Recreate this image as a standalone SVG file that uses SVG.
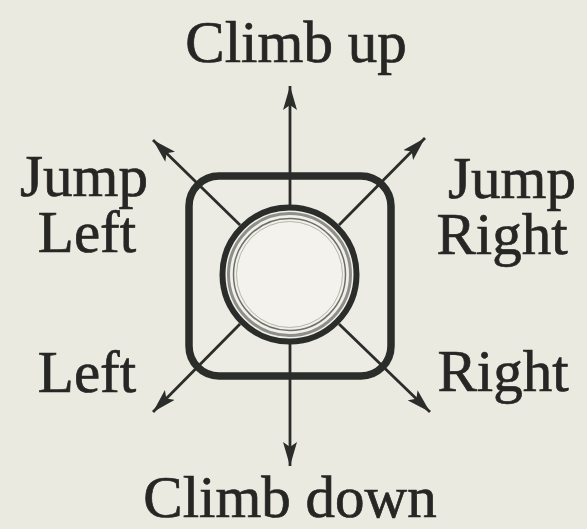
<svg xmlns="http://www.w3.org/2000/svg" width="587" height="529" viewBox="0 0 587 529">
<defs>
<style>
.lbl{font-family:"Liberation Serif","Times New Roman",serif;font-size:59px;fill:#262724;stroke:#262724;stroke-width:0.7}
.conn{stroke:#2b2d2a;stroke-width:2.8;fill:none;marker-end:url(#ah)}
</style>
<marker id="ah" markerUnits="userSpaceOnUse" markerWidth="26" markerHeight="14" refX="24" refY="7" orient="auto">
<path d="M0,0 L24,7 L0,14 L5,7 Z" fill="#2b2d2a"/>
</marker>
</defs>
<rect width="587" height="529" fill="#ebeae1"/>
<g id="pad">
<rect x="189" y="176" width="202" height="200" rx="30" fill="#edece4" stroke="#2b2d2a" stroke-width="7.5"/>
</g>
<g id="connectors">
<line class="conn" x1="290" y1="205" x2="290" y2="86"/>
<line class="conn" x1="290" y1="344" x2="290" y2="466"/>
<line class="conn" x1="240" y1="225" x2="153" y2="140"/>
<line class="conn" x1="339" y1="225" x2="425" y2="138"/>
<line class="conn" x1="240" y1="324" x2="153" y2="412"/>
<line class="conn" x1="339" y1="324" x2="430" y2="412"/>
</g>
<g id="button">
<circle cx="289.5" cy="274.5" r="67" fill="#f1f0ea" stroke="#2b2d2a" stroke-width="6"/>
<circle cx="289.5" cy="274.5" r="61" fill="none" stroke="#8e8f88" stroke-width="3"/>
<circle cx="289.5" cy="274.5" r="56" fill="none" stroke="#6f706a" stroke-width="1.5"/>
<circle cx="289.5" cy="274.5" r="53" fill="#f3f2ec" stroke="#b5b6ae" stroke-width="1"/>
</g>
<g id="climb-up"><text class="lbl" x="296" y="62" text-anchor="middle">Climb up</text></g>
<g id="jump-left"><text class="lbl" x="84" y="196" text-anchor="middle">Jump</text><text class="lbl" x="87" y="252" text-anchor="middle">Left</text></g>
<g id="jump-right"><text class="lbl" x="512" y="198" text-anchor="middle">Jump</text><text class="lbl" x="502" y="254" text-anchor="middle">Right</text></g>
<g id="left"><text class="lbl" x="87" y="392" text-anchor="middle">Left</text></g>
<g id="right"><text class="lbl" x="503" y="391" text-anchor="middle">Right</text></g>
<g id="climb-down"><text class="lbl" x="290" y="517" text-anchor="middle">Climb down</text></g>
</svg>
